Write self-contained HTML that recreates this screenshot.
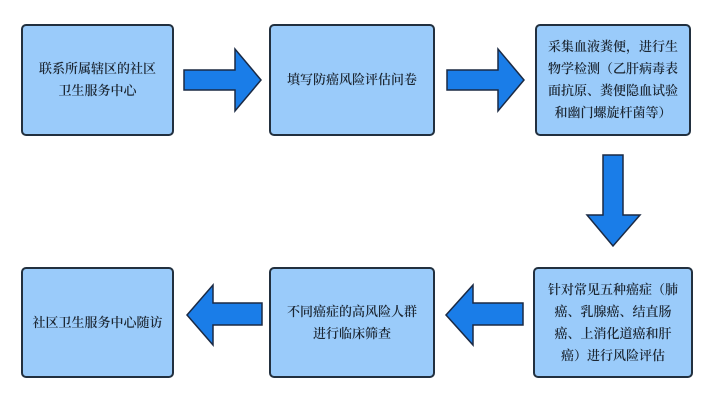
<!DOCTYPE html>
<html><head><meta charset="utf-8"><style>
body{margin:0;width:714px;height:402px;background:#fff;position:relative;overflow:hidden;font-family:"Liberation Serif","Noto Serif CJK SC",serif;}
.b{position:absolute;box-sizing:border-box;background:#9acbfa;border:2px solid #22303f;border-radius:5px;display:flex;align-items:center;justify-content:center;text-align:center;font-size:13px;line-height:22px;color:#1c2733;font-weight:600;padding:0 6px;}
svg{position:absolute;left:0;top:0}
</style></head><body>
<div class="b" style="left:21px;top:24px;width:153px;height:112px">联系所属辖区的社区<br>卫生服务中心</div>
<div class="b" style="left:269px;top:24px;width:166px;height:112px">填写防癌风险评估问卷</div>
<div class="b" style="left:535px;top:24px;width:156px;height:112px">采集血液粪便，进行生物学检测（乙肝病毒表面抗原、粪便隐血试验和幽门螺旋杆菌等）</div>
<div class="b" style="left:533px;top:267px;width:160px;height:111px;padding:0">针对常见五种癌症（肺<br>癌、乳腺癌、结直肠<br>癌、上消化道癌和肝<br>癌）进行风险评估</div>
<div class="b" style="left:269px;top:267px;width:166px;height:111px">不同癌症的高风险人群<br>进行临床筛查</div>
<div class="b" style="left:21px;top:267px;width:153px;height:111px">社区卫生服务中心随访</div>
<svg width="714" height="402">
<g fill="#1a7de8" stroke="#1b2a44" stroke-width="1.5">
<polygon points="184,70 235,70 235,49 261,80 235,111 235,90 184,90"/>
<polygon points="447,70 498,70 498,49 524,80 498,111 498,90 447,90"/>
<polygon points="603,155 623,155 623,215 640,215 613,246 587,215 603,215"/>
<polygon points="523,303 473,303 473,285 446,315 473,345 473,325 523,325"/>
<polygon points="262,303 213,303 213,285 187,315 213,345 213,325 262,325"/>
</g></svg>
</body></html>
